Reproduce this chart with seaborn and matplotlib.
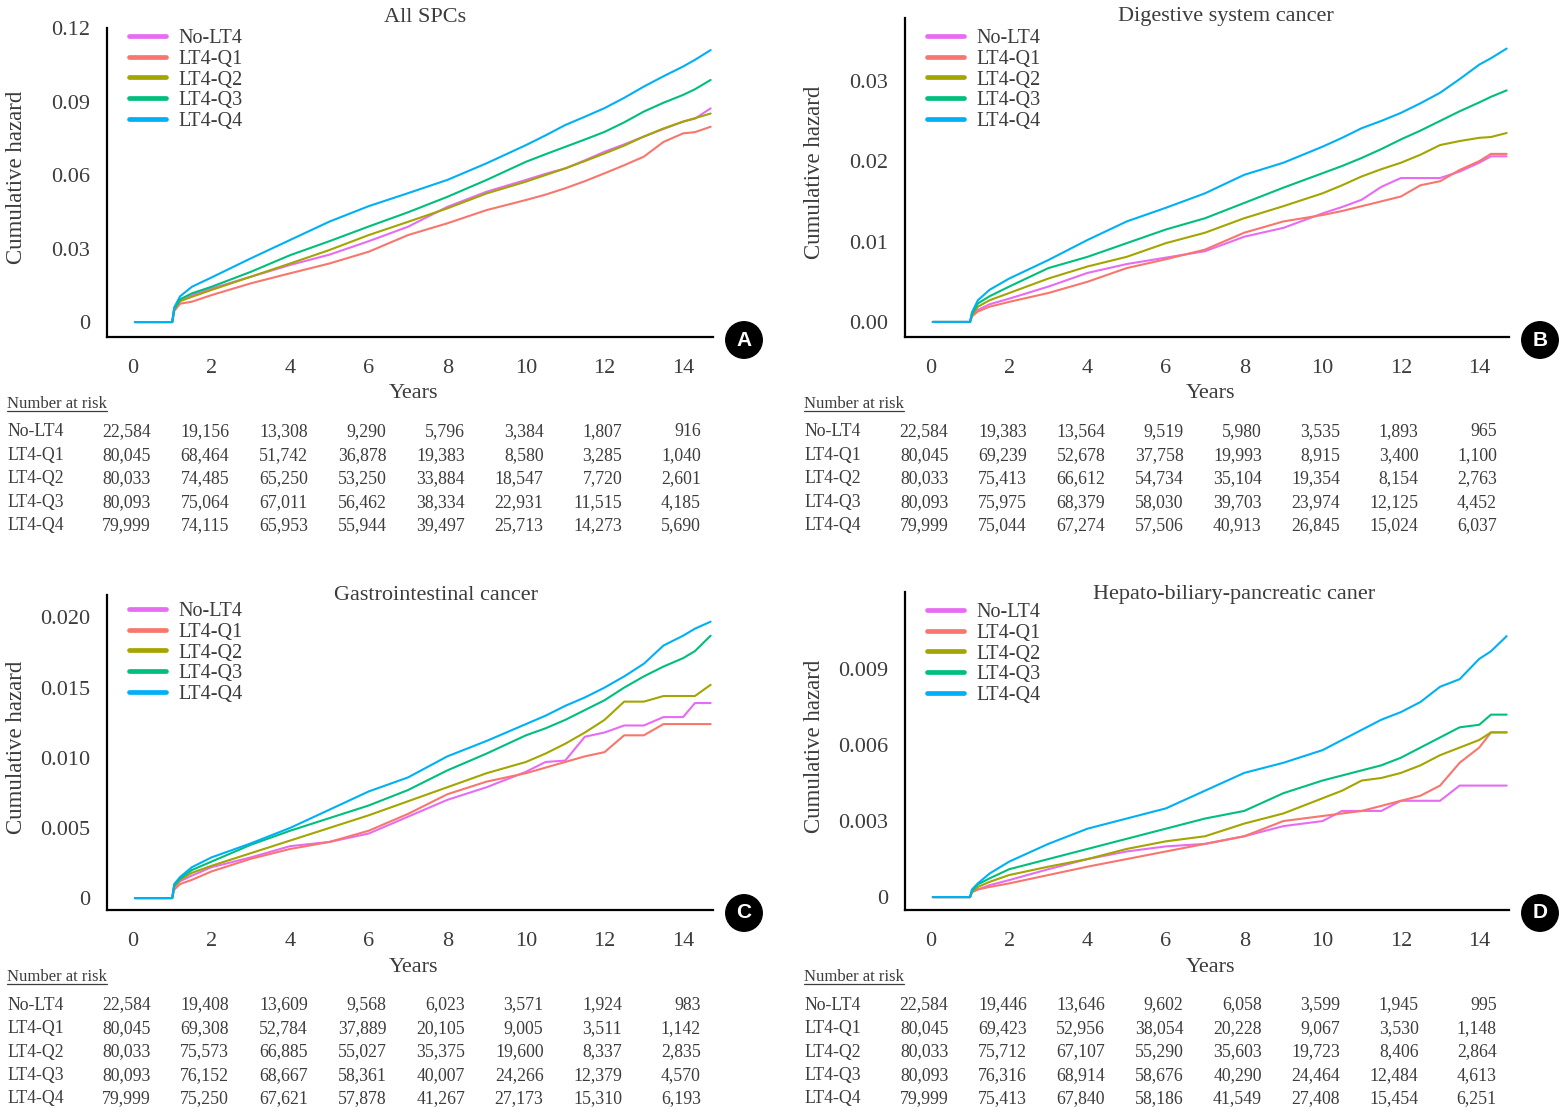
import numpy as np
import matplotlib.pyplot as plt
import pandas as pd
import seaborn as sns
from matplotlib.transforms import blended_transform_factory
from matplotlib.lines import Line2D

sns.set_style('white')
plt.rcParams['font.family'] = ['Liberation Serif', 'DejaVu Serif']

W, H = 1564, 1112
TXT = '#3c3c3c'

groups = ['No-LT4', 'LT4-Q1', 'LT4-Q2', 'LT4-Q3', 'LT4-Q4']
colors = ['#E76BF3', '#F8766D', '#A3A500', '#00BF7D', '#00B0F6']

years = [0.05, 1.0, 1.05, 1.2, 1.5, 2, 3, 4, 5, 6, 7, 8, 9, 10, 10.5, 11,
         11.5, 12, 12.5, 13, 13.5, 14, 14.3, 14.7]
risk_years = [0, 2, 4, 6, 8, 10, 12, 14]

# A - All SPCs
a_no = [0, 0, 0.005, 0.0088, 0.011, 0.0137, 0.0185, 0.0233, 0.0275, 0.033, 0.0389, 0.047,
        0.0532, 0.058, 0.0605, 0.0627, 0.066, 0.0695, 0.0725, 0.0757, 0.0788, 0.0818, 0.083, 0.0872]
a_q1 = [0, 0, 0.0045, 0.0075, 0.0083, 0.011, 0.0158, 0.0199, 0.0239, 0.0287, 0.0355, 0.0403,
        0.0457, 0.0498, 0.052, 0.0546, 0.0575, 0.0607, 0.064, 0.0675, 0.0735, 0.077, 0.0775, 0.0797]
a_q2 = [0, 0, 0.005, 0.0085, 0.0103, 0.0131, 0.0185, 0.0239, 0.0294, 0.0355, 0.0409, 0.0464,
        0.0525, 0.0573, 0.06, 0.0627, 0.0657, 0.0688, 0.072, 0.0757, 0.079, 0.0818, 0.0832, 0.0851]
a_q3 = [0, 0, 0.0055, 0.0093, 0.0117, 0.0144, 0.0205, 0.0273, 0.033, 0.039, 0.0448, 0.0511,
        0.058, 0.0654, 0.0685, 0.0715, 0.0745, 0.0776, 0.0815, 0.0859, 0.0895, 0.0927, 0.095, 0.0988]
a_q4 = [0, 0, 0.006, 0.0105, 0.0144, 0.0182, 0.026, 0.0335, 0.041, 0.0473, 0.0526, 0.058,
        0.0648, 0.0722, 0.0762, 0.0804, 0.0838, 0.0873, 0.0915, 0.0961, 0.1003, 0.1043, 0.107, 0.111]

# B - Digestive system cancer
b_no = [0, 0, 0.0008, 0.0015, 0.0022, 0.0029, 0.0044, 0.0061, 0.0072, 0.008, 0.0088, 0.0106,
        0.0117, 0.0135, 0.0143, 0.0152, 0.0168, 0.0179, 0.0179, 0.0179, 0.0187, 0.0198, 0.0206, 0.0206]
b_q1 = [0, 0, 0.0007, 0.0013, 0.0019, 0.0025, 0.0036, 0.005, 0.0067, 0.0078, 0.009, 0.0111,
        0.0125, 0.0133, 0.0138, 0.0144, 0.015, 0.0156, 0.017, 0.0175, 0.0189, 0.02, 0.0209, 0.0209]
b_q2 = [0, 0, 0.0008, 0.0019, 0.0027, 0.0036, 0.0054, 0.0069, 0.0081, 0.0098, 0.0111, 0.0129,
        0.0144, 0.016, 0.017, 0.0181, 0.019, 0.0198, 0.0208, 0.022, 0.0225, 0.0229, 0.023, 0.0235]
b_q3 = [0, 0, 0.001, 0.0023, 0.0032, 0.0044, 0.0067, 0.0081, 0.0098, 0.0115, 0.0129, 0.0148,
        0.0167, 0.0185, 0.0194, 0.0204, 0.0215, 0.0227, 0.0238, 0.025, 0.0262, 0.0273, 0.028, 0.0288]
b_q4 = [0, 0, 0.0012, 0.0027, 0.004, 0.0054, 0.0077, 0.0102, 0.0125, 0.0142, 0.016, 0.0183,
        0.0198, 0.0218, 0.0229, 0.0241, 0.025, 0.026, 0.0272, 0.0285, 0.0302, 0.032, 0.0328, 0.034]

# C - Gastrointestinal cancer
c_no = [0, 0, 0.0008, 0.0012, 0.0016, 0.0022, 0.0029, 0.0037, 0.004, 0.0046, 0.0058, 0.007,
        0.0079, 0.009, 0.0097, 0.0098, 0.0115, 0.0118, 0.0123, 0.0123, 0.0129, 0.0129, 0.0139, 0.0139]
c_q1 = [0, 0, 0.0006, 0.001, 0.0013, 0.0019, 0.0028, 0.0035, 0.004, 0.0048, 0.006, 0.0074,
        0.0083, 0.0089, 0.0093, 0.0097, 0.0101, 0.0104, 0.0116, 0.0116, 0.0124, 0.0124, 0.0124, 0.0124]
c_q2 = [0, 0, 0.0008, 0.0013, 0.0018, 0.0023, 0.0032, 0.0041, 0.005, 0.0059, 0.0069, 0.0079,
        0.0089, 0.0097, 0.0103, 0.011, 0.0118, 0.0127, 0.014, 0.014, 0.0144, 0.0144, 0.0144, 0.0152]
c_q3 = [0, 0, 0.0009, 0.0014, 0.002, 0.0026, 0.0038, 0.0048, 0.0057, 0.0066, 0.0077, 0.0091,
        0.0103, 0.0116, 0.0121, 0.0127, 0.0134, 0.0141, 0.015, 0.0158, 0.0165, 0.0171, 0.0176, 0.0187]
c_q4 = [0, 0, 0.001, 0.0015, 0.0022, 0.0029, 0.0039, 0.005, 0.0063, 0.0076, 0.0086, 0.0101,
        0.0112, 0.0124, 0.013, 0.0137, 0.0143, 0.015, 0.0158, 0.0167, 0.018, 0.0187, 0.0192, 0.0197]

# D - Hepato-biliary-pancreatic caner
d_no = [0, 0, 0.0002, 0.0003, 0.00047, 0.00067, 0.0011, 0.0015, 0.0018, 0.002, 0.0021, 0.0024,
        0.0028, 0.003, 0.0034, 0.0034, 0.0034, 0.0038, 0.0038, 0.0038, 0.0044, 0.0044, 0.0044, 0.0044]
d_q1 = [0, 0, 0.0002, 0.0003, 0.0004, 0.00054, 0.00087, 0.0012, 0.0015, 0.0018, 0.0021, 0.0024,
        0.003, 0.0032, 0.0033, 0.0034, 0.0036, 0.0038, 0.004, 0.0044, 0.0053, 0.0059, 0.0065, 0.0065]
d_q2 = [0, 0, 0.0002, 0.0004, 0.0006, 0.00087, 0.0012, 0.0015, 0.0019, 0.0022, 0.0024, 0.0029,
        0.0033, 0.0039, 0.0042, 0.0046, 0.0047, 0.0049, 0.0052, 0.0056, 0.0059, 0.0062, 0.0065, 0.0065]
d_q3 = [0, 0, 0.00025, 0.0005, 0.00074, 0.0011, 0.0015, 0.0019, 0.0023, 0.0027, 0.0031, 0.0034,
        0.0041, 0.0046, 0.0048, 0.005, 0.0052, 0.0055, 0.0059, 0.0063, 0.0067, 0.0068, 0.0072, 0.0072]
d_q4 = [0, 0, 0.0003, 0.00054, 0.00093, 0.0014, 0.0021, 0.0027, 0.0031, 0.0035, 0.0042, 0.0049,
        0.0053, 0.0058, 0.0062, 0.0066, 0.007, 0.0073, 0.0077, 0.0083, 0.0086, 0.0094, 0.0097, 0.0103]

# number at risk
risk_a = [[22584, 19156, 13308, 9290, 5796, 3384, 1807, 916],
          [80045, 68464, 51742, 36878, 19383, 8580, 3285, 1040],
          [80033, 74485, 65250, 53250, 33884, 18547, 7720, 2601],
          [80093, 75064, 67011, 56462, 38334, 22931, 11515, 4185],
          [79999, 74115, 65953, 55944, 39497, 25713, 14273, 5690]]
risk_b = [[22584, 19383, 13564, 9519, 5980, 3535, 1893, 965],
          [80045, 69239, 52678, 37758, 19993, 8915, 3400, 1100],
          [80033, 75413, 66612, 54734, 35104, 19354, 8154, 2763],
          [80093, 75975, 68379, 58030, 39703, 23974, 12125, 4452],
          [79999, 75044, 67274, 57506, 40913, 26845, 15024, 6037]]
risk_c = [[22584, 19408, 13609, 9568, 6023, 3571, 1924, 983],
          [80045, 69308, 52784, 37889, 20105, 9005, 3511, 1142],
          [80033, 75573, 66885, 55027, 35375, 19600, 8337, 2835],
          [80093, 76152, 68667, 58361, 40007, 24266, 12379, 4570],
          [79999, 75250, 67621, 57878, 41267, 27173, 15310, 6193]]
risk_d = [[22584, 19446, 13646, 9602, 6058, 3599, 1945, 995],
          [80045, 69423, 52956, 38054, 20228, 9067, 3530, 1148],
          [80033, 75712, 67107, 55290, 35603, 19723, 8406, 2864],
          [80093, 76316, 68914, 58676, 40290, 24464, 12484, 4613],
          [79999, 75413, 67840, 58186, 41549, 27408, 15454, 6251]]

titles = ['All SPCs', 'Digestive system cancer', 'Gastrointestinal cancer',
          'Hepato-biliary-pancreatic caner']
letters = ['A', 'B', 'C', 'D']
yticks = [[0, 0.03, 0.06, 0.09, 0.12], [0, 0.01, 0.02, 0.03],
          [0, 0.005, 0.010, 0.015, 0.020], [0, 0.003, 0.006, 0.009]]
ytick_labels = [['0', '0.03', '0.06', '0.09', '0.12'], ['0.00', '0.01', '0.02', '0.03'],
                ['0', '0.005', '0.010', '0.015', '0.020'], ['0', '0.003', '0.006', '0.009']]
ylims = [(-0.0061, 0.12), (-0.00187, 0.0378), (-0.00085, 0.0216), (-0.00051, 0.01204)]

curves = [[a_no, a_q1, a_q2, a_q3, a_q4], [b_no, b_q1, b_q2, b_q3, b_q4],
          [c_no, c_q1, c_q2, c_q3, c_q4], [d_no, d_q1, d_q2, d_q3, d_q4]]
risks = [risk_a, risk_b, risk_c, risk_d]

# layout in pixels: left, bottom spine, right, top
boxes = [(107, 337, 713, 28), (905, 337, 1509, 18), (107, 910, 713, 595), (905, 910, 1509, 592)]
legend_top = [29, 29, 602, 603]
title_pos = [(425, 17), (1226, 17), (436, 595), (1234, 595)]

fig = plt.figure(figsize=(W / 100, H / 100), dpi=100)
palette = dict(zip(groups, colors))


def fx(px):
    return px / W


def fy(py):
    return 1 - py / H


underline_texts = []
for i in range(4):
    l, b, r, t = boxes[i]
    ax = fig.add_axes([fx(l), fy(b), (r - l) / W, (b - t) / H])
    rows = []
    for g, vals in zip(groups, curves[i]):
        for x, v in zip(years, vals):
            rows.append((g, x, v))
    df = pd.DataFrame(rows, columns=['group', 'years', 'hazard'])
    sns.lineplot(data=df, x='years', y='hazard', hue='group', hue_order=groups,
                 palette=palette, estimator=None, sort=False, linewidth=1.5, ax=ax)
    ax.set_xlim(-0.66, 14.76)
    ax.set_ylim(*ylims[i])
    ax.set_xticks(risk_years)
    ax.set_xticklabels([str(v) for v in risk_years])
    ax.set_yticks(yticks[i])
    ax.set_yticklabels(ytick_labels[i])
    ax.set_xlabel('')
    ax.set_ylabel('')
    for s in ['top', 'right']:
        ax.spines[s].set_visible(False)
    for s in ['left', 'bottom']:
        ax.spines[s].set_color('black')
        ax.spines[s].set_linewidth(1.6)
    ax.tick_params(axis='both', direction='in', length=7, width=1.5, colors='black',
                   labelcolor=TXT, labelsize=16)
    ax.tick_params(axis='x', pad=16)
    ax.tick_params(axis='y', pad=12)

    handles, labels = ax.get_legend_handles_labels()
    leg = ax.legend(handles, labels, loc='upper left', frameon=False,
                    bbox_to_anchor=(fx(l + 22), fy(legend_top[i])),
                    bbox_transform=fig.transFigure, borderpad=0, borderaxespad=0,
                    handlelength=1.85, handletextpad=0.6, labelspacing=0.08, fontsize=14.5)
    for h in leg.get_lines():
        h.set_linewidth(3.4)
    for txt in leg.get_texts():
        txt.set_color(TXT)

    # title, axis labels, panel letter
    fig.text(fx(title_pos[i][0]), fy(title_pos[i][1]), titles[i], ha='center', va='center',
             fontsize=16, color=TXT)
    fig.text(fx(17 if i % 2 == 0 else 815), fy((t + b) / 2 - 5), 'Cumulative hazard',
             rotation=90, ha='center', va='center', fontsize=16.5, color=TXT)
    fig.text(fx((l + r) / 2 + 3), fy(b + 57), 'Years', ha='center', va='center',
             fontsize=16, color=TXT)
    fig.text(fx(r + 31), fy(b + 3), letters[i], ha='center', va='center', color='white',
             fontsize=15, fontweight='bold', family='Liberation Sans',
             bbox=dict(boxstyle='circle,pad=0.42', fc='black', ec='black'))

    # number at risk table
    lab_x = 7 if i % 2 == 0 else 804
    nt = fig.text(fx(lab_x), fy(b + 67), 'Number at risk', ha='left', va='center',
                  fontsize=12, color=TXT)
    underline_texts.append(nt)
    trans = blended_transform_factory(ax.transData, fig.transFigure)
    for j, g in enumerate(groups):
        ypx = b + 95 + j * 23.5
        fig.text(fx(lab_x), fy(ypx), g, ha='left', va='center', fontsize=12.8, color=TXT)
        for xv, n in zip(risk_years, risks[i][j]):
            ax.text(xv + 0.45, fy(ypx), f'{n:,}', transform=trans, ha='right',
                    va='center', fontsize=12.8, color=TXT, clip_on=False)

fig.canvas.draw()
renderer = fig.canvas.get_renderer()
for nt in underline_texts:
    bb = nt.get_window_extent(renderer)
    fig.add_artist(Line2D([bb.x0 / W, bb.x1 / W], [(bb.y0 + 1) / H, (bb.y0 + 1) / H],
                          transform=fig.transFigure, color=TXT, linewidth=0.9))

fig.savefig('out.png', dpi=100)
